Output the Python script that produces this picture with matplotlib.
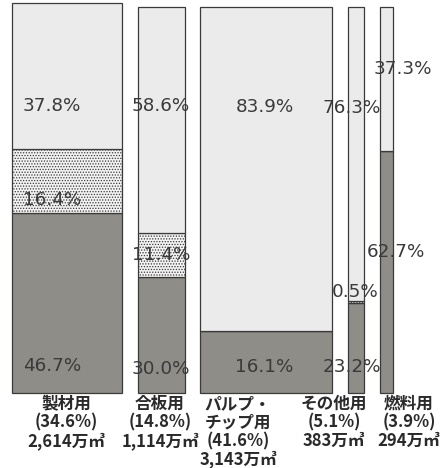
import matplotlib
matplotlib.use("Agg")
import matplotlib.pyplot as plt

plt.rcParams['font.family'] = ['Noto Sans CJK JP', 'DejaVu Sans']
plt.rcParams['hatch.color'] = '#8a8a8a'
plt.rcParams['hatch.linewidth'] = 0.6

# ---- data ----
categories = ["製材用", "合板用", "パルプ・\nチップ用", "その他用", "燃料用"]
shares = [34.6, 14.8, 41.6, 5.1, 3.9]
volumes = ["2,614", "1,114", "3,143", "383", "294"]
bottom_vals = [46.7, 30.0, 16.1, 23.2, 62.7]
middle_vals = [16.4, 11.4, 0.0, 0.5, 0.0]
top_vals = [37.8, 58.6, 83.9, 76.3, 37.3]

# ---- layout ----
W, H = 440, 468
gap = 5.0
fig = plt.figure(figsize=(W / 100, H / 100), dpi=100)
ax_left, ax_right, ax_top, ax_bot = 12, 392.7, 6.5, 393
ax = fig.add_axes([ax_left / W, (H - ax_bot) / H, (ax_right - ax_left) / W, (ax_bot - ax_top) / H])
total = sum(shares) + gap * (len(shares) - 1)
ax.set_xlim(0, total)
ax.set_ylim(0, 100)
ax.axis('off')
px_per_unit = (ax_right - ax_left) / total

c_bottom = '#8f8d88'
c_mid = '#f2f2f2'
c_top = '#ebebeb'
edge = '#3a3a3a'

lefts = []
x = 0.0
for s in shares:
    lefts.append(x)
    x += s + gap

ax.bar(lefts, bottom_vals, width=shares, align='edge', color=c_bottom, edgecolor=edge, linewidth=0.9)
ax.bar(lefts, middle_vals, width=shares, bottom=bottom_vals, align='edge', color=c_mid,
       edgecolor=edge, linewidth=0.9, hatch='......')
tb = [b + m for b, m in zip(bottom_vals, middle_vals)]
ax.bar(lefts, top_vals, width=shares, bottom=tb, align='edge', color=c_top, edgecolor=edge, linewidth=0.9)
for p in ax.patches:
    p.set_clip_on(False)

# segment label placement (px offset from bar centre, height in %)
label_pos = [
    [(-15, 7.0), (-15, 50.0), (-15, 74.2)],
    [(0, 6.2), (0, 35.7), (0, 74.2)],
    [(-2, 6.7), None, (-2, 74.0)],
    [(-4, 6.7), (-1, 26.1), (-5, 73.8)],
    [(9, 36.4), None, (16, 83.7)],
]
for i, (l, s) in enumerate(zip(lefts, shares)):
    cx = l + s / 2
    for j, v in enumerate([bottom_vals[i], middle_vals[i], top_vals[i]]):
        if v <= 0 or label_pos[i][j] is None:
            continue
        dx, yy = label_pos[i][j]
        ax.text(cx + dx / px_per_unit, yy, f"{v:.1f}%", ha='center', va='center',
                fontsize=13.2, color='#3a3a3a', family='DejaVu Sans')

# category labels below
cat_x = [66, 160, 238, 334, 409]
for i, c in enumerate(categories):
    lines = c.split("\n") + [f"({shares[i]:.1f}%)", f"{volumes[i]}万㎥"]
    for k, line in enumerate(lines):
        fig.text(cat_x[i] / W, 1 - (404 + 18.5 * k) / H, line, ha='center', va='center',
                 fontsize=12, color='#2a2a2a', fontweight='bold')

fig.savefig("out.png", dpi=100, facecolor='white')
